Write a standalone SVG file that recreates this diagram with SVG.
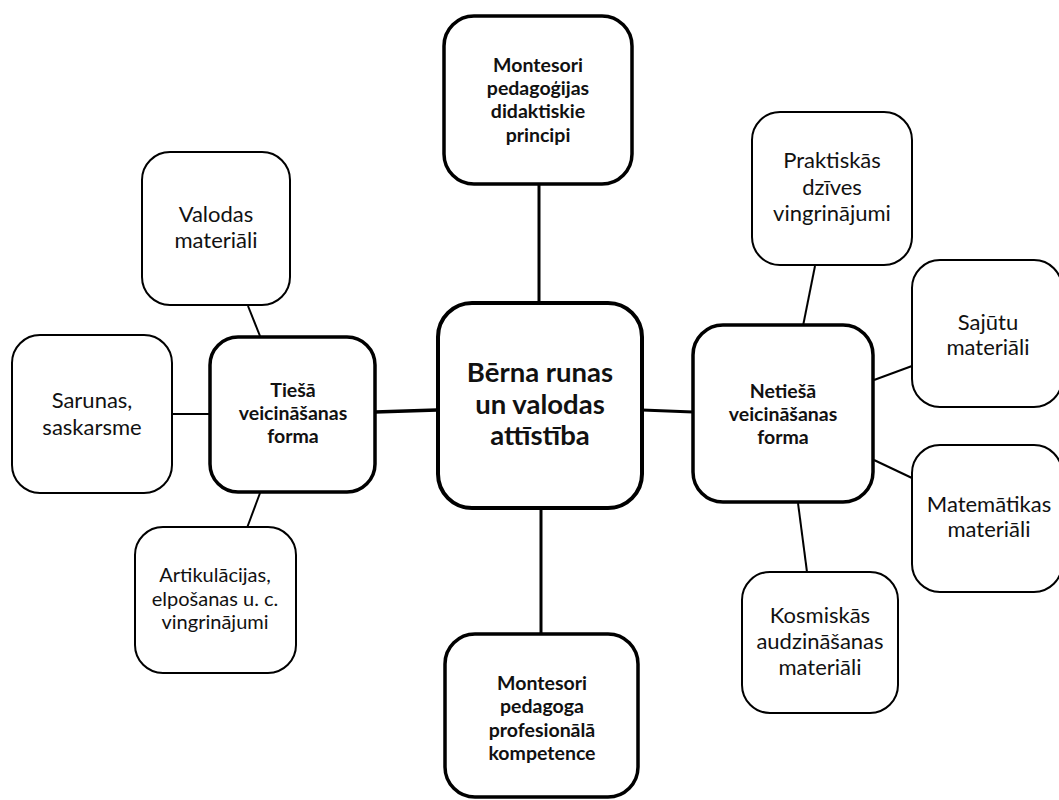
<svg xmlns="http://www.w3.org/2000/svg" width="1059" height="800" viewBox="0 0 1059 800">
  <style>
    .box { fill: #ffffff; stroke: #000000; }
    .thin { stroke-width: 2; }
    .mid { stroke-width: 3.5; }
    .thick { stroke-width: 4; }
    .link { stroke: #000000; fill: none; }
    text { font-family: Lato, "Open Sans", "Noto Sans", sans-serif; text-anchor: middle; fill: #111111; }
    .b { font-weight: bold; font-size: 19.5px; }
    .r { font-size: 22px; }
    .r16 { font-size: 20px; }
    .big { font-weight: bold; font-size: 27.5px; }
  </style>
  <rect width="1059" height="800" fill="#ffffff"/>

  <!-- connectors -->
  <g id="connectors">
    <line class="link" x1="539" y1="185" x2="539" y2="302" stroke-width="3"/>
    <line class="link" x1="541" y1="508" x2="541" y2="633" stroke-width="3"/>
    <line class="link" x1="375" y1="412" x2="437" y2="410" stroke-width="3.5"/>
    <line class="link" x1="642" y1="410" x2="693" y2="412" stroke="#4a4a34" stroke-width="3"/>
    <line class="link" x1="248" y1="306" x2="260" y2="336" stroke-width="2"/>
    <line class="link" x1="172" y1="414" x2="210" y2="414" stroke-width="2"/>
    <line class="link" x1="260" y1="493" x2="247" y2="528" stroke-width="2"/>
    <line class="link" x1="815" y1="266" x2="803" y2="326" stroke-width="2"/>
    <line class="link" x1="912" y1="366" x2="874" y2="380" stroke-width="2"/>
    <line class="link" x1="874" y1="460" x2="912" y2="478" stroke-width="2"/>
    <line class="link" x1="798" y1="503" x2="807" y2="572" stroke-width="2"/>
  </g>

  <g id="center">
    <rect class="box thick" x="438" y="303" width="204" height="205" rx="34"/>
    <text class="big" x="540" y="382">Bērna runas</text>
    <text class="big" x="540" y="414">un valodas</text>
    <text class="big" x="540" y="445">attīstība</text>
  </g>

  <g id="principles">
    <rect class="box mid" x="444" y="16" width="188" height="168" rx="30"/>
    <text class="b" x="538" y="72">Montesori</text>
    <text class="b" x="538" y="95">pedagoģijas</text>
    <text class="b" x="538" y="118">didaktiskie</text>
    <text class="b" x="538" y="142">principi</text>
  </g>

  <g id="competence">
    <rect class="box mid" x="445" y="634" width="193" height="163" rx="30"/>
    <text class="b" x="542" y="690">Montesori</text>
    <text class="b" x="542" y="713">pedagoga</text>
    <text class="b" x="542" y="737">profesionālā</text>
    <text class="b" x="542" y="760">kompetence</text>
  </g>

  <g id="direct">
    <rect class="box mid" x="210" y="337" width="165" height="155" rx="28"/>
    <text class="b" x="293" y="397">Tiešā</text>
    <text class="b" x="293" y="420">veicināšanas</text>
    <text class="b" x="293" y="443">forma</text>
  </g>

  <g id="language-materials">
    <rect class="box thin" x="142" y="152" width="148" height="153" rx="28"/>
    <text class="r" x="216" y="222">Valodas</text>
    <text class="r" x="216" y="248">materiāli</text>
  </g>

  <g id="conversation">
    <rect class="box thin" x="12" y="335" width="160" height="158" rx="28"/>
    <text class="r" x="92" y="408">Sarunas,</text>
    <text class="r" x="92" y="435">saskarsme</text>
  </g>

  <g id="articulation">
    <rect class="box thin" x="135" y="527" width="161" height="146" rx="28"/>
    <text class="r16" x="215" y="582">Artikulācijas,</text>
    <text class="r16" x="215" y="606">elpošanas u. c.</text>
    <text class="r16" x="215" y="629">vingrinājumi</text>
  </g>

  <g id="indirect">
    <rect class="box mid" x="693" y="325" width="180" height="177" rx="30"/>
    <text class="b" x="783" y="398">Netiešā</text>
    <text class="b" x="783" y="421">veicināšanas</text>
    <text class="b" x="783" y="444">forma</text>
  </g>

  <g id="practical-life">
    <rect class="box thin" x="752" y="112" width="160" height="153" rx="28"/>
    <text class="r" x="832" y="168">Praktiskās</text>
    <text class="r" x="832" y="195">dzīves</text>
    <text class="r" x="832" y="221">vingrinājumi</text>
  </g>

  <g id="sensorial">
    <rect class="box thin" x="912" y="260" width="150" height="147" rx="28"/>
    <text class="r" x="988" y="330">Sajūtu</text>
    <text class="r" x="988" y="355">materiāli</text>
  </g>

  <g id="mathematics">
    <rect class="box thin" x="912" y="445" width="150" height="147" rx="28"/>
    <text class="r" x="989" y="512">Matemātikas</text>
    <text class="r" x="989" y="537">materiāli</text>
  </g>

  <g id="cosmic">
    <rect class="box thin" x="742" y="572" width="156" height="141" rx="28"/>
    <text class="r" x="820" y="623">Kosmiskās</text>
    <text class="r" x="820" y="649">audzināšanas</text>
    <text class="r" x="820" y="675">materiāli</text>
  </g>
</svg>
